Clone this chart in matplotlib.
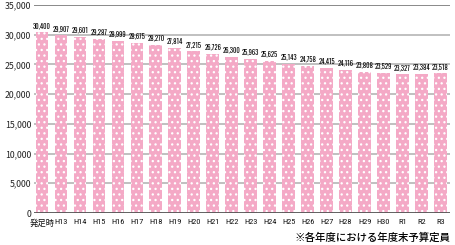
import matplotlib
matplotlib.use("Agg")
import matplotlib.pyplot as plt

plt.rcParams['font.family'] = ['Noto Sans CJK JP', 'DejaVu Sans']
plt.rcParams['hatch.linewidth'] = 0.9

categories = ['発足時', 'H13', 'H14', 'H15', 'H16', 'H17', 'H18', 'H19', 'H20', 'H21',
              'H22', 'H23', 'H24', 'H25', 'H26', 'H27', 'H28', 'H29', 'H30', 'R1', 'R2', 'R3']
staff = [30400, 29907, 29601, 29287, 28999, 28675, 28270, 27814, 27215, 26726,
         26300, 25963, 25625, 25143, 24758, 24415, 24116, 23808, 23529, 23327, 23384, 23518]
yticks = [0, 5000, 10000, 15000, 20000, 25000, 30000, 35000]
note = '※各年度における年度末予算定員'

cond = ['Roboto Condensed', 'Noto Sans CJK JP', 'DejaVu Sans']

fig = plt.figure(figsize=(4.55, 2.45), dpi=100)
ax = fig.add_axes([34/455, 1-213/245, 416/455, 208/245])

x = range(len(categories))
# white edge colour is only there so the dot hatch is white
ax.bar(x, staff, width=0.67, color='#f4a9c6', edgecolor='white', linewidth=0,
       hatch='...', zorder=2)

for i, v in zip(x, staff):
    ax.text(i, v + 600, f'{v:,}', ha='center', va='bottom', fontsize=4.8,
            fontweight='bold', family=['Oswald', 'Roboto Condensed', 'DejaVu Sans'],
            color='black')

ax.set_ylim(0, 35000)
ax.set_xlim(-0.42, 21.5)
ax.set_yticks(yticks)
ax.set_yticklabels([f'{t:,}' for t in yticks], fontsize=6.3, color='#222222')
ax.set_xticks(list(x))
ax.set_xticklabels(categories, fontsize=6, color='#111111', family=cond)
ax.tick_params(axis='x', length=0, pad=4)
ax.tick_params(axis='y', length=0, pad=2)

for t in yticks[1:-1]:
    ax.axhline(t, color='#bbbbbb', linewidth=1.3, zorder=1)
ax.axhline(35000, color='#808080', linewidth=1.3, zorder=1)
ax.axhline(0, color='#555555', linewidth=1.3, zorder=3)

for s in ax.spines.values():
    s.set_visible(False)

fig.text(450/455, 1-238/245, note, ha='right', va='center', fontsize=7.5,
         fontweight='medium', color='black')

fig.savefig('out.png', dpi=100)
